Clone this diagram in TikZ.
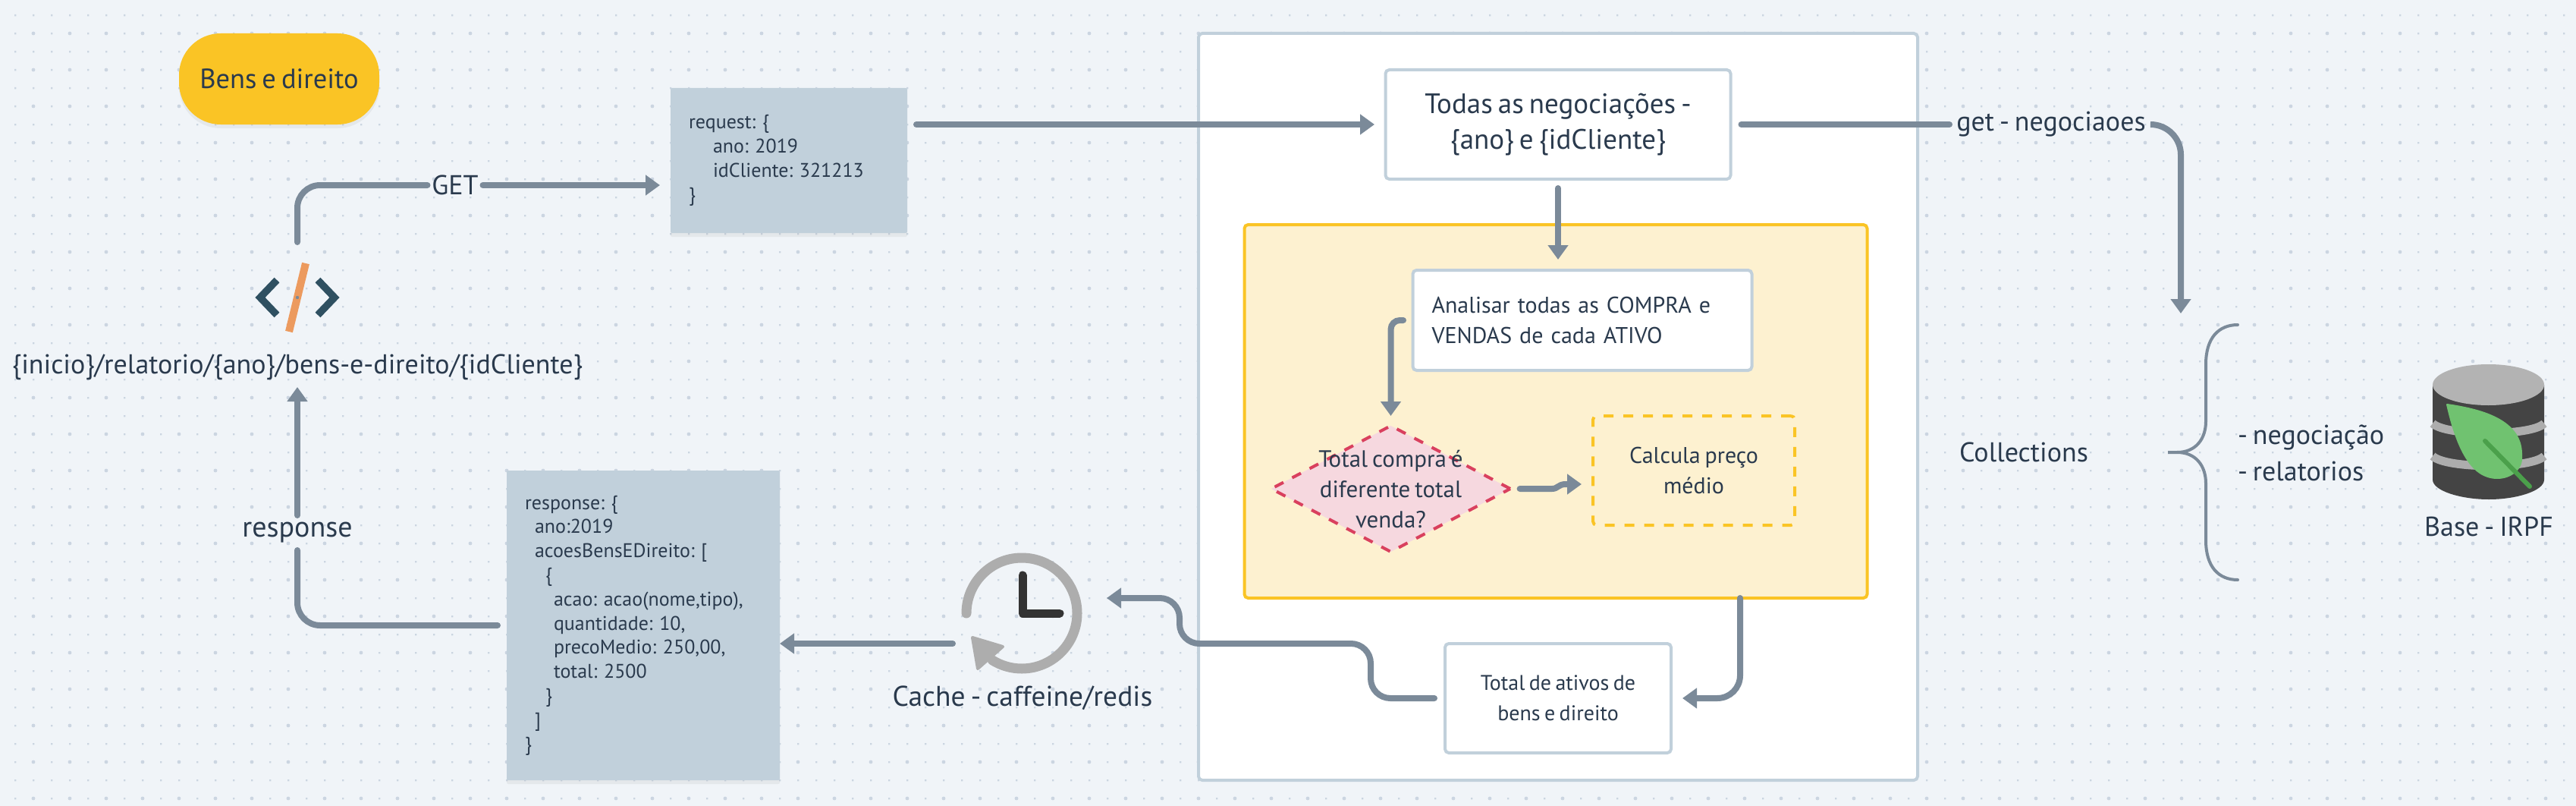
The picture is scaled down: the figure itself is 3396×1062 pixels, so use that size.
\documentclass[tikz,border=0pt]{standalone}
\usepackage{fontspec}
\setmainfont[WordSpace=0.72]{PT Sans}
\usetikzlibrary{arrows.meta,shapes.geometric,shadows,calc}
\definecolor{bgc}{HTML}{F0F4F8}
\definecolor{dotc}{HTML}{CBD5E1}
\definecolor{linec}{HTML}{7B8A99}
\definecolor{edgec}{HTML}{C1D0DB}
\definecolor{inkc}{HTML}{2A3A4D}
\definecolor{yelc}{HTML}{FAC425}
\definecolor{yelf}{HTML}{FDF1D0}
\definecolor{redc}{HTML}{D9405E}
\definecolor{redf}{HTML}{F6D8DF}
\definecolor{grayc}{HTML}{ADADAD}
\definecolor{darkc}{HTML}{333333}
\definecolor{dbb}{HTML}{444444}
\definecolor{dbt}{HTML}{B3B3B3}
\definecolor{leafc}{HTML}{70C270}
\definecolor{veinc}{HTML}{4BA04B}
\definecolor{codec}{HTML}{2F5061}
\definecolor{slashc}{HTML}{EC9A5E}
\newcommand{\fsz}[2]{\fontsize{#1pt}{#2pt}\selectfont\frenchspacing}
\tikzset{
  x=1pt,y=-1pt,
  every node/.style={outer sep=0pt,inner sep=0pt,text=inkc},
  softshadow/.style={drop shadow={opacity=0.10,shadow xshift=0pt,shadow yshift=-5pt}},
  whitebox/.style={draw=edgec,fill=white,line width=4pt,rounded corners=5pt,align=center},
  codebox/.style={fill=edgec,rounded corners=2pt,align=left,softshadow},
  conn/.style={draw=linec,line width=8pt,line cap=round},
  arrowed/.style={-{Triangle[length=19pt,width=26pt]}},
  biglabel/.style={font=\fsz{36}{47},align=center},
  midlabel/.style={font=\fsz{30}{40},align=center},
}
\begin{document}
\begin{tikzpicture}
\useasboundingbox (0,0) rectangle (3396,1062);
\fill[bgc] (0,0) rectangle (3396,1062);
% dotted canvas
\fill[dotc] \foreach \i in {0,...,140}{\foreach \j in {0,...,43}{
  (20+24*\i-1,20+24*\j-1) rectangle +(2.4,2.4)}};
\fill[dotc] \foreach \i in {0,...,69}{\foreach \j in {0,...,21}{
  (44+48*\i,44+48*\j) circle (2.4)}};

% containers
\node[draw=edgec,fill=white,line width=4pt,rounded corners=5pt,minimum width=948pt,minimum height=984pt] (panel) at (2054,536) {};
\node[draw=yelc,fill=yelf,line width=4pt,rounded corners=5pt,minimum width=821pt,minimum height=492pt] (yellow) at (2051,542) {};

% nodes
\node[fill=yelc,rounded corners=55pt,minimum width=264pt,minimum height=120pt,softshadow,font=\fsz{36.5}{40}] (pill) at (368,104) {Bens e direito};
\node[codebox,minimum width=312pt,minimum height=191pt,text width=264pt,font=\fsz{26}{31.8}] (req) at (1040,211.5) {request: \{\\\hspace*{32pt}ano: 2019\\\hspace*{32pt}idCliente: 321213\\\}};
\node[codebox,minimum width=360pt,minimum height=408pt,text width=312pt,font=\fsz{26}{31.8}] (resp) at (848,824) {response: \{\\\hspace*{13pt}ano:2019\\\hspace*{13pt}acoesBensEDireito: [\\\hspace*{27pt}\{\\\hspace*{38pt}acao: acao(nome,tipo),\\\hspace*{38pt}quantidade: 10,\\\hspace*{38pt}precoMedio: 250,00,\\\hspace*{38pt}total: 2500\\\hspace*{27pt}\}\\\hspace*{13pt}]\\\}};
\node[whitebox,minimum width=455pt,minimum height=144pt,font=\fsz{37}{47}] (todas) at (2054,164) {Todas as negociações -\\\{ano\} e \{idCliente\}};
\node[whitebox,minimum width=447pt,minimum height=132pt,text width=397pt,align=left,font=\fsz{30}{40}] (analisar) at (2086,422) {Analisar todas as COMPRA e\\VENDAS de cada ATIVO};
\node[draw=redc,fill=redf,diamond,aspect=1.9,line width=4pt,dash pattern=on 13pt off 13pt,minimum width=315pt,minimum height=166pt] (losango) at (1833.5,644) {};
\node[font=\fsz{31}{40},align=center] (losangotxt) at (1833.5,645) {Total compra é\\diferente total\\venda?};
\node[draw=yelc,line width=4pt,dash pattern=on 13pt off 13pt,rounded corners=5pt,minimum width=266pt,minimum height=144pt,midlabel] (calcula) at (2233,620) {Calcula preço\\médio};
\node[whitebox,minimum width=298pt,minimum height=144pt,font=\fsz{28}{40}] (total) at (2054,920) {Total de ativos de\\bens e direito};

% labels
\node[minimum width=73pt,minimum height=30pt,biglabel] (getl) at (600,244) {GET};
\node[minimum width=110pt,minimum height=146pt] (code) at (392,392) {};
\node[minimum height=52pt,biglabel] (url) at (392,484) {\{inicio\}/relatorio/\{ano\}/bens-e-direito/\{idCliente\}};
\node[minimum height=46pt,font=\fsz{38}{47},align=center] (respl) at (392,702) {response};
\node[minimum width=160pt,minimum height=160pt] (clock) at (1347,808) {};
\node[font=\fsz{37.5}{47},align=center] (cache) at (1348,920) {Cache - caffeine/redis};
\node[minimum width=268pt,minimum height=40pt,biglabel] (getn) at (2704,164) {get - negociaoes};
\node[biglabel] (coll) at (2668,596) {Collections};
\node[anchor=west,font=\fsz{36}{48},align=left] (list) at (2950,597) {- negociação\\- relatorios};
\node[biglabel] (base) at (3281,694) {Base - IRPF};
\coordinate (bracetop) at (2875,428);

% connectors
\begin{scope}[rounded corners=30pt]
\draw[conn] (code.north) |- (getl.west);
\draw[conn,arrowed,shorten >=14pt] (getl.east) -- (req.west |- getl.east);
\draw[conn,arrowed,shorten <=12pt,shorten >=14.5pt] (req.east |- todas.west) -- (todas.west);
\draw[conn,shorten <=14pt] (todas.east) -- (getn.west);
\draw[conn,arrowed,rounded corners=40pt,shorten >=15pt] (getn.east) -| (bracetop);
\draw[conn,arrowed,shorten <=12pt,shorten >=14pt] (todas.south) -- (todas.south |- analisar.north);
\draw[conn,arrowed,rounded corners=12pt,shorten <=12.5pt,shorten >=13pt] (analisar.west) -| (losango.north);
\draw[conn,arrowed,shorten <=12.6pt,shorten >=15pt,rounded corners=0pt] (losango.east) -- (2046,644) .. controls (2054,644) and (2054,638) .. (2064,638) -- (calcula.west |- 0,638);
\draw[conn,arrowed,shorten >=15pt] (yellow.south -| 2294,0) |- (total.east);
\draw[conn,arrowed,rounded corners=26pt,shorten <=14pt,shorten >=32pt] (total.west) -- (1807,920) -- (1807,848) -- (1555,848) -- (1555,788) -- (clock.east |- 0,788);
\draw[conn,arrowed,shorten <=11pt] (clock.west |- 0,848) -- (resp.east |- 0,848);
\draw[conn,shorten <=12pt] (resp.west) -| (respl.south);
\draw[conn,arrowed] (respl.north) -- (url.south);
\end{scope}

% code icon
\draw[codec,line width=9.5pt] (365,369) -- (343,392) -- (365,415);
\draw[codec,line width=9.5pt] (419,369) -- (441,392) -- (419,415);
\draw[slashc,line width=10pt] (403,347) -- (381,437);
\fill[linec] (392,392) circle (2.2);

% clock
\draw[grayc,line width=13pt,line cap=round] (1274,808) arc (180:482:73);
\fill[grayc,draw=grayc,line width=4pt,line join=round] (1282,840) -- (1322,852) -- (1289,881) -- cycle;
\draw[darkc,line width=11pt,line cap=round,line join=round] (1348,758) -- (1348,808) -- (1397,808);

% brace
\draw[linec,line width=4pt,line cap=round] (2950,428) .. controls (2925,428) and (2908,445) .. (2908,480) -- (2908,555) .. controls (2908,578) and (2895,596) .. (2870,596) -- (2858,596) -- (2870,596) .. controls (2895,596) and (2908,614) .. (2908,637) -- (2908,712) .. controls (2908,747) and (2925,764) .. (2950,764);

% database
\fill[dbb] (3207,507) -- (3207,632) .. controls (3207,647) and (3245,658) .. (3281,658) .. controls (3317,658) and (3354,647) .. (3354,632) -- (3354,507) -- cycle;
\draw[grayc,line width=11pt] (3207,558) .. controls (3225,575) and (3337,575) .. (3354,558);
\draw[grayc,line width=11pt] (3207,601) .. controls (3225,618) and (3337,618) .. (3354,601);
\fill[dbt] (3280.5,507) ellipse (73.5 and 27);
\fill[leafc,draw=leafc,line width=2pt,line join=round] (3226,533) .. controls (3275,540) and (3325,555) .. (3324,600) .. controls (3326,618) and (3310,630) .. (3292,630) .. controls (3260,630) and (3240,595) .. cycle;
\draw[veinc,line width=6pt,line cap=round] (3276,581) -- (3335,641);
\end{tikzpicture}
\end{document}
